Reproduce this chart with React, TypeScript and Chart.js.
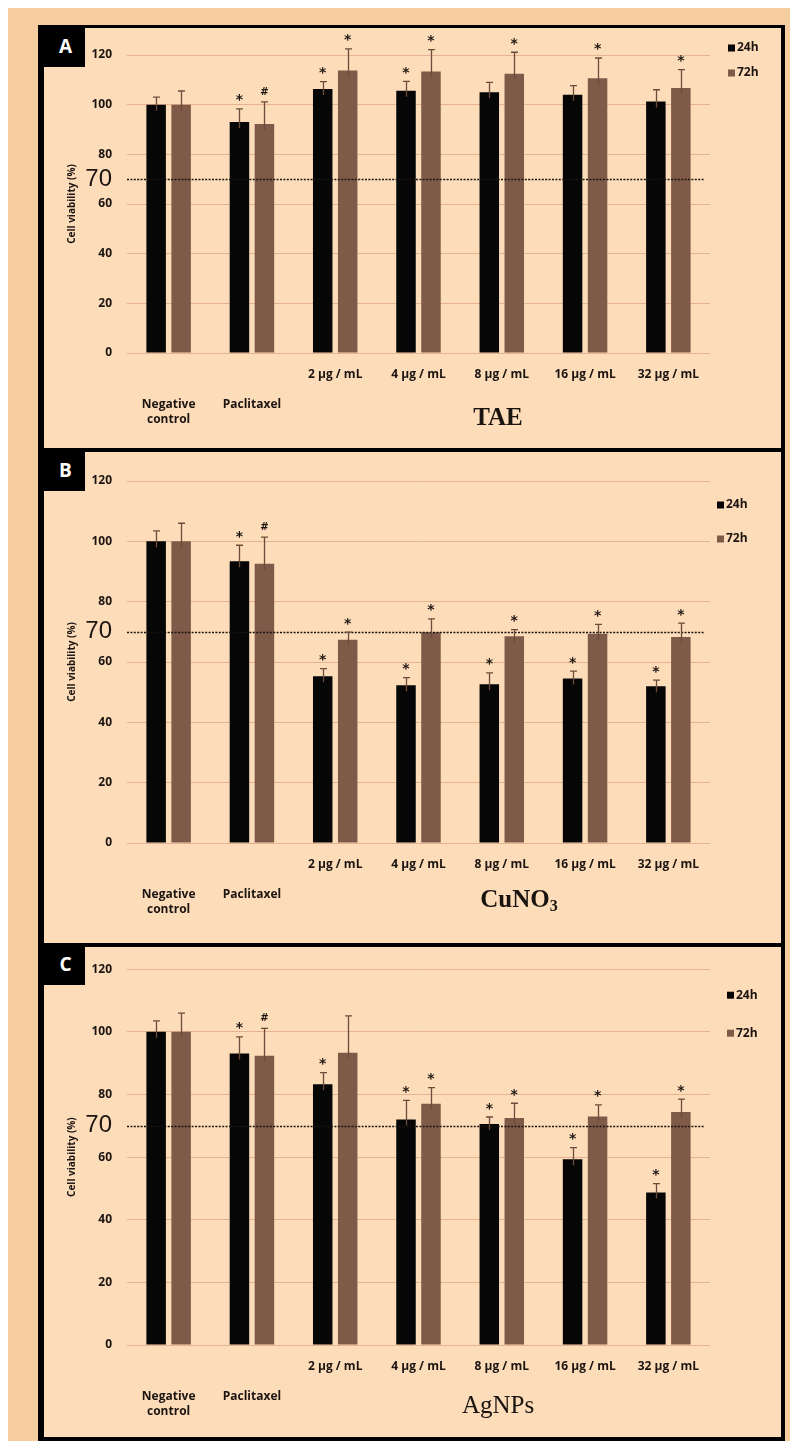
import React, { useEffect, useRef } from "react";
import { Chart, registerables } from "chart.js";

Chart.register(...registerables);

// ---------- data ----------
const categories: (string | string[])[] = [
  ["", "", "Negative", "control"],
  ["", "", "Paclitaxel"],
  "2 µg / mL",
  "4 µg / mL",
  "8 µg / mL",
  "16 µg / mL",
  "32 µg / mL",
];
const seriesNames = ["24h", "72h"];
const yTickValues = [0, 20, 40, 60, 80, 100, 120];
const thresholdValue = 70;
const yAxisTitle = "Cell viability (%)";

// Panel A – TAE
const taeValues24 = [100, 93, 106.3, 105.6, 105, 104, 101.3];
const taeValues72 = [100, 92.2, 113.8, 113.4, 112.5, 110.6, 106.7];
const taeErr24 = [3, 5.3, 3, 3.8, 4, 3.7, 4.7];
const taeErr72 = [5.5, 8.9, 8.7, 8.8, 8.6, 8.2, 7.4];
const taeMarks24 = ["", "*", "*", "*", "", "", ""];
const taeMarks72 = ["", "#", "*", "*", "*", "*", "*"];

// Panel B – CuNO3
const cuValues24 = [100, 93.4, 55.3, 52.3, 52.6, 54.5, 52.0];
const cuValues72 = [100, 92.6, 67.4, 69.9, 68.5, 69.4, 68.3];
const cuErr24 = [3.5, 5.3, 2.5, 2.5, 3.8, 2.5, 2];
const cuErr72 = [6, 8.8, 2.5, 4.4, 2.2, 3.1, 4.6];
const cuMarks24 = ["", "*", "*", "*", "*", "*", "*"];
const cuMarks72 = ["", "#", "*", "*", "*", "*", "*"];

// Panel C – AgNPs
const agValues24 = [100, 93.1, 83.3, 72, 70.6, 59.3, 48.7];
const agValues72 = [100, 92.4, 93.3, 77, 72.5, 73, 74.4];
const agErr24 = [3.5, 5.3, 3.7, 6.1, 2.2, 3.7, 2.8];
const agErr72 = [6, 8.7, 11.8, 5.2, 4.7, 3.7, 4.1];
const agMarks24 = ["", "*", "*", "*", "*", "*", "*"];
const agMarks72 = ["", "#", "", "*", "*", "*", "*"];

// ---------- styles ----------
const BLACK = "#060606";
const BROWN = "#7f5a48";
const GRID = "#e6b392";
const TEXT = "#1c1410";
const ERR = "#6b4c3b";
const OUTER_BG = "#f6cd9e";
const PANEL_BG = "#fcdcb9";

type PanelSpec = {
  letter: string;
  v24: number[];
  v72: number[];
  e24: number[];
  e72: number[];
  m24: string[];
  m72: string[];
  top: number;
  height: number;
  chartTop: number;
  chartBottom: number;
  legendDx: number;
  legendDy: number[];
};

const panels: PanelSpec[] = [
  {
    letter: "A",
    v24: taeValues24, v72: taeValues72, e24: taeErr24, e72: taeErr72, m24: taeMarks24, m72: taeMarks72,
    top: 20, height: 420, chartTop: 27, chartBottom: 325, legendDx: 18, legendDy: [-7, 18],
  },
  {
    letter: "B",
    v24: cuValues24, v72: cuValues72, e24: cuErr24, e72: cuErr72, m24: cuMarks24, m72: cuMarks72,
    top: 444, height: 491, chartTop: 29, chartBottom: 391, legendDx: 7, legendDy: [24, 58],
  },
  {
    letter: "C",
    v24: agValues24, v72: agValues72, e24: agErr24, e72: agErr72, m24: agMarks24, m72: agMarks72,
    top: 939, height: 490, chartTop: 20, chartBottom: 398, legendDx: 17, legendDy: [26, 64],
  },
];

const CANVAS_LEFT = 36;
const CANVAS_W = 736;
const Y_AXIS_W = 83;
const RIGHT_PAD = 70;

function PanelChart({ spec }: { spec: PanelSpec }) {
  const ref = useRef<HTMLCanvasElement>(null);
  useEffect(() => {
    const canvas = ref.current!;
    const overlay = {
      id: "overlay",
      afterDatasetsDraw(chart: any) {
        const ctx = chart.ctx as CanvasRenderingContext2D;
        const area = chart.chartArea;
        const y = chart.scales.y;
        ctx.save();
        // threshold line
        const ty = Math.round(y.getPixelForValue(thresholdValue)) + 0.5;
        ctx.strokeStyle = "#1a1410";
        ctx.lineWidth = 1.7;
        ctx.setLineDash([2, 1.4]);
        ctx.beginPath();
        ctx.moveTo(area.left, ty);
        ctx.lineTo(area.right - 5, ty);
        ctx.stroke();
        ctx.setLineDash([]);
        // error bars + markers
        const errs = [spec.e24, spec.e72];
        const vals = [spec.v24, spec.v72];
        const marks = [spec.m24, spec.m72];
        for (let d = 0; d < 2; d++) {
          const meta = chart.getDatasetMeta(d);
          meta.data.forEach((bar: any, i: number) => {
            const x = Math.round(bar.x) + 0.5;
            const top = y.getPixelForValue(vals[d][i]);
            const cap = y.getPixelForValue(vals[d][i] + errs[d][i]);
            ctx.strokeStyle = ERR;
            ctx.lineWidth = 1.3;
            ctx.beginPath();
            ctx.moveTo(x, top + 6);
            ctx.lineTo(x, cap);
            ctx.moveTo(x - 3.5, cap);
            ctx.lineTo(x + 3.5, cap);
            ctx.stroke();
            const m = marks[d][i];
            if (m) {
              ctx.font = m === "#" ? "bold 10px 'DejaVu Sans'" : "bold 14px 'DejaVu Sans'";
              ctx.fillStyle = TEXT;
              ctx.textAlign = "center";
              ctx.textBaseline = "alphabetic";
              const tm = ctx.measureText(m);
              const center = cap - 11;
              const by = center + (tm.actualBoundingBoxAscent - tm.actualBoundingBoxDescent) / 2;
              ctx.fillText(m, bar.x, by);
            }
          });
        }
        // legend
        const lx = area.right + spec.legendDx;
        const colors = [BLACK, BROWN];
        ctx.font = "bold 12px 'Open Sans'";
        ctx.textAlign = "left";
        ctx.textBaseline = "middle";
        seriesNames.forEach((name, i) => {
          const ly = area.top + spec.legendDy[i];
          ctx.fillStyle = colors[i];
          ctx.fillRect(lx, ly - 3.5, 7, 7);
          ctx.fillStyle = TEXT;
          ctx.fillText(name, lx + 9, ly);
        });
        ctx.restore();
      },
    };

    const chart = new Chart(canvas, {
      type: "bar",
      data: {
        labels: categories as any,
        datasets: [
          { label: seriesNames[0], data: spec.v24, backgroundColor: BLACK, borderWidth: 0 },
          { label: seriesNames[1], data: spec.v72, backgroundColor: BROWN, borderWidth: 0 },
        ],
      },
      options: {
        animation: false,
        responsive: false,
        devicePixelRatio: 1,
        layout: { padding: { top: spec.chartTop, right: RIGHT_PAD, left: 0, bottom: 0 } },
        datasets: { bar: { categoryPercentage: 0.6, barPercentage: 0.78 } },
        plugins: { legend: { display: false }, tooltip: { enabled: false } },
        scales: {
          x: {
            grid: { display: false, drawTicks: false },
            border: { display: false },
            ticks: {
              autoSkip: false,
              maxRotation: 0,
              minRotation: 0,
              padding: 14.5,
              color: TEXT,
              font: { family: "'Open Sans'", size: 12, weight: "bold", lineHeight: "15px" },
            },
            afterFit: (s: any) => {
              s.height = spec.height - spec.chartBottom;
            },
          },
          y: {
            min: 0,
            max: 120,
            afterBuildTicks: (s: any) => {
              s.ticks = [...yTickValues, thresholdValue].sort((a, b) => a - b).map((v) => ({ value: v }));
            },
            ticks: {
              padding: 15,
              color: TEXT,
              font: (c: any) =>
                c.tick && c.tick.value === thresholdValue
                  ? { family: "'Liberation Sans'", size: 24, weight: "normal" }
                  : { family: "'Open Sans'", size: 12, weight: "bold" },
            },
            grid: {
              drawTicks: false,
              color: (c: any) => (c.tick && c.tick.value === thresholdValue ? "rgba(0,0,0,0)" : GRID),
              lineWidth: 1,
            },
            border: { display: false },
            title: {
              display: true,
              text: yAxisTitle,
              color: TEXT,
              font: { family: "'Open Sans'", size: 10, weight: "bold", lineHeight: 1.2 },
              padding: { top: 22, bottom: 0 },
            },
            afterFit: (s: any) => {
              s.width = Y_AXIS_W;
            },
          },
        },
      } as any,
      plugins: [overlay],
    });
    return () => chart.destroy();
  }, [spec]);

  return (
    <canvas
      ref={ref}
      width={CANVAS_W}
      height={spec.height}
      style={{
        position: "absolute",
        left: CANVAS_LEFT,
        top: spec.top,
        width: CANVAS_W,
        height: spec.height,
        zIndex: 1,
      }}
    />
  );
}

const letterBoxStyle = (top: number): React.CSSProperties => ({
  position: "absolute",
  left: 30,
  top,
  width: 47,
  height: 42,
  background: "#000",
  color: "#fff",
  fontFamily: "'Open Sans', sans-serif",
  fontWeight: 700,
  fontSize: 19,
  display: "flex",
  alignItems: "center",
  justifyContent: "center",
  paddingLeft: 8,
  boxSizing: "border-box",
  zIndex: 2,
});

const nameStyle = (left: number, top: number, weight: number): React.CSSProperties => ({
  position: "absolute",
  left,
  top,
  transform: "translate(-50%, -50%)",
  fontFamily: "'Liberation Serif', serif",
  fontWeight: weight,
  fontSize: 25,
  color: "#1a1410",
  whiteSpace: "nowrap",
  zIndex: 2,
});

export default function App() {
  return (
    <div
      style={{
        position: "relative",
        width: 782,
        height: 1433,
        background: OUTER_BG,
        overflow: "hidden",
      }}
    >
      <div
        style={{
          position: "absolute", left: 30, top: 17, width: 747, height: 423,
          borderStyle: "solid", borderColor: "#000", borderWidth: "3px 4px 0 6px",
          background: PANEL_BG, boxSizing: "border-box",
        }}
      />
      <div
        style={{
          position: "absolute", left: 30, top: 440, width: 747, height: 495,
          borderStyle: "solid", borderColor: "#000", borderWidth: "4px 4px 0 6px",
          background: PANEL_BG, boxSizing: "border-box",
        }}
      />
      <div
        style={{
          position: "absolute", left: 30, top: 935, width: 747, height: 498,
          borderStyle: "solid", borderColor: "#000", borderWidth: "4px 4px 4px 6px",
          background: PANEL_BG, boxSizing: "border-box",
        }}
      />
      {panels.map((p) => (
        <PanelChart key={p.letter} spec={p} />
      ))}
      <div style={letterBoxStyle(17)}>A</div>
      <div style={letterBoxStyle(441)}>B</div>
      <div style={letterBoxStyle(935)}>C</div>
      <div style={nameStyle(490, 409, 700)}>TAE</div>
      <div style={nameStyle(511, 892, 700)}>
        CuNO<sub style={{ fontSize: 16, verticalAlign: "-4px" }}>3</sub>
      </div>
      <div style={nameStyle(490, 1397, 400)}>AgNPs</div>
    </div>
  );
}
